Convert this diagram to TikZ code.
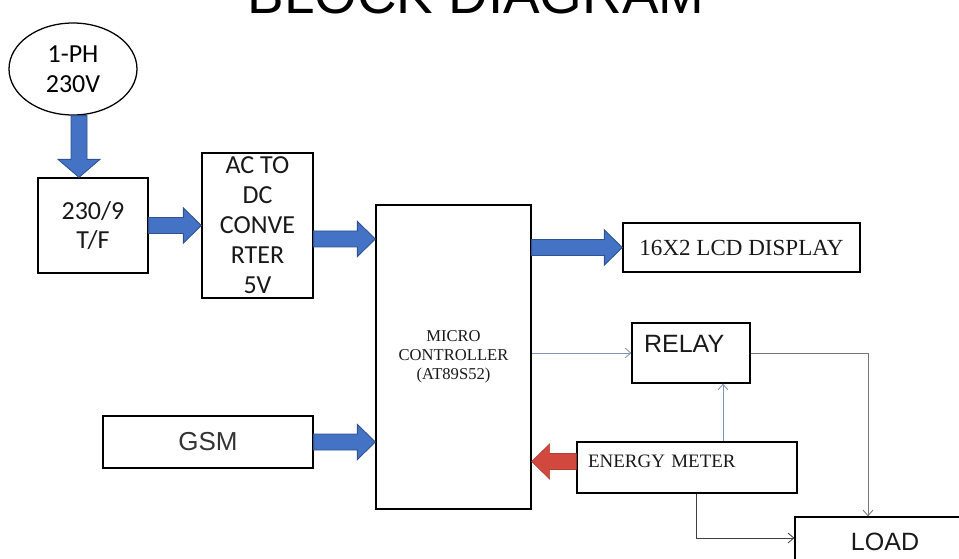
\documentclass[tikz,border=0pt]{standalone}
\usepackage{xcolor}
\usepackage{fontspec}
\setmainfont{Liberation Serif}
\newfontfamily\carlito{Carlito}
\newfontfamily\arialfont{Liberation Sans}
\usepackage{tikz}
\usetikzlibrary{shapes.geometric, arrows.meta, calc}

\definecolor{arrowblue}{RGB}{68,114,196}
\definecolor{arrowline}{RGB}{47,82,143}
\definecolor{arrowred}{RGB}{208,72,62}
\definecolor{thinblue}{RGB}{128,148,178}
\definecolor{thingray}{RGB}{120,120,120}

% wide block arrow from #2 to #3
\newcommand{\shaftw}{0.2cm}
\newcommand{\headw}{0.44cm}
\newcommand{\headl}{0.45cm}
\newcommand{\fatarrow}[3][fatblue]{%
  \coordinate (fa) at ($(#3)!\headl!(#2)$);
  \filldraw[#1] ($(#2)!\shaftw!90:(#3)$) -- ($(fa)!\shaftw!90:(#3)$)
    -- ($(fa)!\headw!90:(#3)$) -- (#3) -- ($(fa)!\headw!-90:(#3)$)
    -- ($(fa)!\shaftw!-90:(#3)$) -- ($(#2)!\shaftw!-90:(#3)$) -- cycle;
}

\begin{document}
\begin{tikzpicture}
      \tikzstyle{block} = [draw, rectangle, line width=0.9pt, align=center,
                           inner sep=0pt, text=black!90]
      \tikzstyle{calibri} = [font=\carlito\fontsize{18.5}{21.3}\selectfont]
      \tikzstyle{sansbig} = [font=\arialfont\fontsize{17.8}{21}\selectfont]
      \tikzstyle{fatblue} = [fill=arrowblue, draw=arrowline, line width=0.6pt]
      \tikzstyle{fatred} = [fill=arrowred, draw=arrowred!85!black, line width=0.4pt]
      \tikzstyle{link} = [line width=0.6pt, -{Straight Barb[length=4pt,width=7pt]}]

      \useasboundingbox (0,0) rectangle (23.975,-13.975);

      \node[font=\arialfont\fontsize{39}{44}\selectfont, anchor=base] (title) at (11.9,-0.35) {BLOCK DIAGRAM};

      \node[draw, ellipse, line width=0.9pt, minimum width=3.2cm, minimum height=2.3cm,
            inner sep=0pt, align=center, calibri] (src) at (1.825,-1.725) {1-PH\\230V};
      \node[block, calibri, minimum width=2.75cm, minimum height=2.375cm] (tf) at (2.325,-5.6375) {230/9\\T/F};
      \node[block, calibri, minimum width=2.775cm, minimum height=3.625cm] (ac) at (6.4375,-5.6375) {AC TO\\DC\\CONVE\\RTER\\5V};
      \node[block, font=\fontsize{11.8}{13.5}\selectfont, minimum width=3.875cm,
            minimum height=7.6cm] (mc) at (11.3375,-8.925) {MICRO\\CONTROLLER\\(AT89S52)};
      \node[block, font=\fontsize{16.4}{19}\selectfont, minimum width=5.925cm,
            minimum height=1.225cm] (lcd) at (18.5375,-6.1875) {16X2 LCD DISPLAY};
      \node[block, sansbig, align=left, inner xsep=0.3cm, inner ysep=0.3cm, text width=2.35cm,
            text height=0.45cm, text depth=0.45cm] (relay) at (17.275,-8.825) {RELAY};
      \node[block, font=\fontsize{13.5}{16}\selectfont, align=left, inner xsep=0.275cm,
            inner ysep=0.3cm, text width=4.95cm, text height=0.33cm,
            text depth=0.345cm] (em) at (17.175,-11.6875) {ENERGY METER};
      \node[block, sansbig, minimum width=4.5cm, minimum height=1.25cm] (load) at (22.125,-13.55) {LOAD};
      \node[block, font=\arialfont\fontsize{18.5}{21}\selectfont, text=black!80,
            minimum width=5.25cm, minimum height=1.3cm] (gsm) at (5.2,-11.05) {GSM};

      % block arrows
      \coordinate (a1) at ([xshift=0.15cm]src.south);
      \coordinate (a2) at (a1 |- tf.north);
      {\renewcommand{\headw}{0.525cm}\fatarrow{a1}{a2}}
      \coordinate (b1) at (tf.east);
      \coordinate (b2) at (tf.east -| ac.west);
      \fatarrow{b1}{b2}
      \coordinate (c1) at ([yshift=-0.3375cm]ac.east);
      \coordinate (c2) at (c1 -| mc.west);
      \fatarrow{c1}{c2}
      \coordinate (d1) at (mc.east |- lcd.west);
      \fatarrow{d1}{lcd.west}
      \coordinate (e2) at (gsm.east -| mc.west);
      \fatarrow{gsm.east}{e2}
      \coordinate (f1) at ([yshift=0.15cm]em.west);
      \coordinate (f2) at (f1 -| mc.east);
      \fatarrow[fatred]{f1}{f2}

      % thin links
      \draw[link, thinblue] (relay.west -| mc.east) -- (relay.west);
      \coordinate (g1) at ([xshift=-0.425cm]load.north);
      \draw[link, thingray] (relay.east) -| (g1);
      \coordinate (h1) at ([xshift=0.9cm]em.north);
      \draw[link, thinblue] (h1) -- (h1 |- relay.south);
      \coordinate (k1) at ([xshift=0.225cm]em.south);
      \draw[link, black!75] (k1) |- ([yshift=0.1cm]load.west);
    \end{tikzpicture}
\end{document}
